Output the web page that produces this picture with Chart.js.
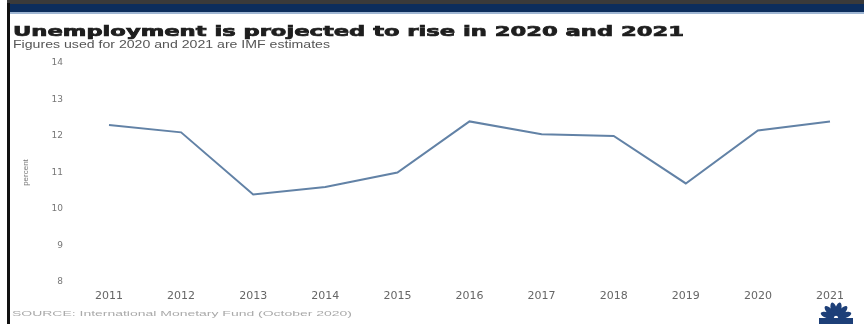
<!DOCTYPE html>
<html>
<head>
<meta charset="utf-8">
<script src="https://cdn.jsdelivr.net/npm/chart.js@4"></script>
<style>
    html, body { margin: 0; padding: 0; background: #fff; }
    #wrap { width: 864px; height: 324px; position: relative; }
</style>
</head>
<body>
<div id="wrap"><canvas id="unemployment-chart" width="864" height="324"></canvas></div>
<script>
// Chart data
var years = ["2011", "2012", "2013", "2014", "2015", "2016", "2017", "2018", "2019", "2020", "2021"];
var unemployment = [12.3, 12.1, 10.4, 10.6, 11.0, 12.4, 12.05, 12.0, 10.7, 12.15, 12.4];
var yTicks = [8, 9, 10, 11, 12, 13, 14];

var titleText = "Unemployment is projected to rise in 2020 and 2021";
var subtitleText = "Figures used for 2020 and 2021 are IMF estimates";
var sourceText = "SOURCE: International Monetary Fund (October 2020)";

// draws text stretched to a given width (the original graphic is stretched sideways)
function drawWide(ctx, text, x, y, width, font, color, stroke) {
    ctx.save();
    ctx.font = font;
    ctx.fillStyle = color;
    ctx.textBaseline = "alphabetic";
    var w = ctx.measureText(text).width;
    ctx.translate(x, y);
    ctx.scale(width / w, 1);
    ctx.fillText(text, 0, 0);
    if (stroke) {
        ctx.strokeStyle = color;
        ctx.lineWidth = stroke;
        ctx.strokeText(text, 0, 0);
    }
    ctx.restore();
}

var framePlugin = {
    id: "frame",
    beforeDraw: function (chart) {
        var ctx = chart.ctx;
        ctx.save();
        ctx.fillStyle = "#fff";
        ctx.fillRect(0, 0, chart.width, chart.height);
        // top banner
        ctx.fillStyle = "#3a3a3a";
        ctx.fillRect(7, 0, chart.width - 7, 4);
        ctx.fillStyle = "#0c2d5c";
        ctx.fillRect(7, 4, chart.width - 7, 8);
        ctx.fillStyle = "#9fb6d3";
        ctx.fillRect(7, 12, chart.width - 7, 2);
        // left border
        ctx.fillStyle = "#111";
        ctx.fillRect(7, 3, 3, chart.height - 3);
        ctx.restore();

        drawWide(ctx, titleText, 13, 36, 671, "bold 14px 'DejaVu Sans'", "#1e1e1e", 0.7);
        drawWide(ctx, subtitleText, 13, 48, 317, "11px 'Liberation Sans'", "#555");
        drawWide(ctx, sourceText, 12, 316, 340, "8px 'Liberation Sans'", "#aaa");
    },
    afterDraw: function (chart) {
        // small peacock logo, bottom right
        var ctx = chart.ctx;
        var cx = 836, cy = 318;
        ctx.save();
        ctx.fillStyle = "#1d3f78";
        for (var i = 0; i < 6; i++) {
            var a = Math.PI * (0.1 + i * 0.16);
            ctx.save();
            ctx.translate(cx + Math.cos(a) * 9, cy - Math.sin(a) * 9);
            ctx.rotate(-a);
            ctx.beginPath();
            ctx.ellipse(0, 0, 7, 3, 0, 0, Math.PI * 2);
            ctx.fill();
            ctx.restore();
        }
        ctx.fillRect(819, 318, 34, 6);
        ctx.restore();
    },
};

var ctx = document.getElementById("unemployment-chart").getContext("2d");

var chart = new Chart(ctx, {
    type: "line",
    data: {
        labels: years,
        datasets: [
            {
                label: "Unemployment",
                data: unemployment,
                borderColor: "#6282a6",
                borderWidth: 2,
                pointRadius: 0,
                tension: 0,
                fill: false,
            },
        ],
    },
    options: {
        responsive: false,
        animation: false,
        layout: {
            padding: { top: 63, left: 15, right: 34, bottom: 0 },
        },
        plugins: {
            legend: { display: false },
            tooltip: { enabled: false },
        },
        scales: {
            x: {
                offset: false,
                grid: { display: false, drawTicks: false },
                border: { display: false },
                ticks: {
                    color: "#666",
                    font: { family: "DejaVu Sans", size: 11 },
                    padding: 8,
                    maxRotation: 0,
                    autoSkip: false,
                },
                afterFit: function (scale) {
                    scale.height = 42;
                },
            },
            y: {
                min: yTicks[0],
                max: yTicks[yTicks.length - 1],
                grid: { display: false, drawTicks: false },
                border: { display: false },
                ticks: {
                    stepSize: 1,
                    color: "#777",
                    font: { family: "DejaVu Sans", size: 9 },
                    padding: 46,
                },
                title: {
                    display: true,
                    text: "percent",
                    color: "#777",
                    font: { family: "Liberation Sans", size: 8 },
                    padding: { top: 6, bottom: 4 },
                },
                afterFit: function (scale) {
                    scale.width = 94;
                    // the big label padding should not push the plot area inward
                    scale.paddingTop = 5;
                    scale.paddingBottom = 5;
                },
            },
        },
    },
    plugins: [framePlugin],
});
</script>
</body>
</html>
